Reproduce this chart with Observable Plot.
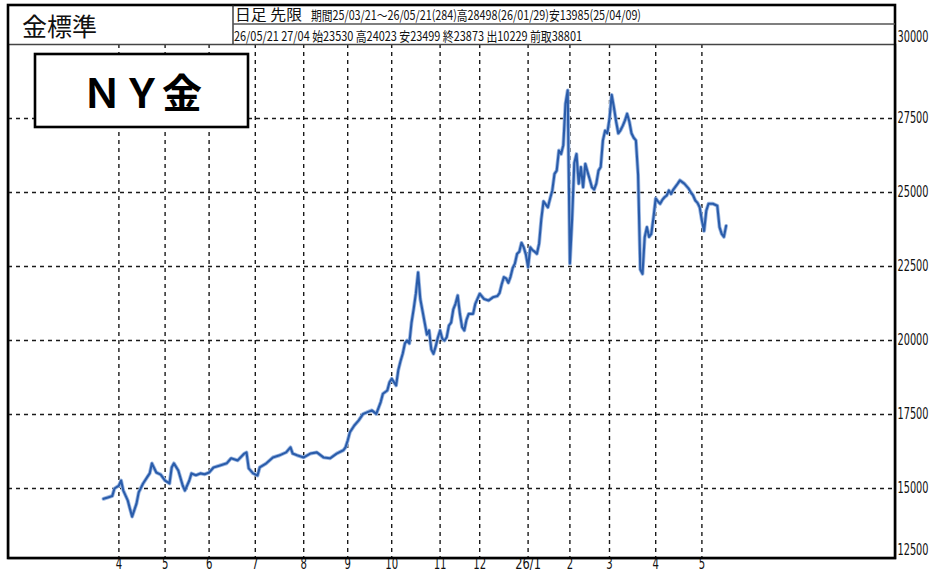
<!DOCTYPE html>
<html><head><meta charset="utf-8">
<script src="https://cdn.jsdelivr.net/npm/d3@7"></script>
<script src="https://cdn.jsdelivr.net/npm/@observablehq/plot@0.6"></script>
<style>
html,body{margin:0;padding:0;background:#fff;}
#chart{width:933px;height:577px;overflow:hidden;}
</style></head><body><div id="chart"></div>
<script>
// trading-day index (0 = 25/03/21) and price (yen/g)
const days = [0,2,4,5,7,8,9,11,12,13,15,16,18,20,21,22,24,26,28,30,31,32,34,36,37,39,40,42,44,46,48,50,53,56,58,61,64,65,66,68,70,71,74,77,80,83,85,86,88,91,94,97,100,103,106,109,110,111,112,114,116,118,120,122,124,126,127,129,130,131,133,134,135,136,137,138,139,140,141,142,143,144,145,146,147,148,149,150,151,152,153,154,155,156,157,158,159,160,161,162,163,164,165,166,168,169,171,173,175,177,179,180,181,182,183,184,185,186,187,188,189,190,191,192,193,194,195,196,197,198,199,200,201,202,203,204,205,206,207,208,209,210,211,212,213,214,215,216,217,218,219,220,221,222,223,224,225,226,227,228,229,230,231,232,233,234,235,236,237,238,239,240,241,242,243,244,245,246,247,248,249,250,251,252,253,254,255,256,257,258,259,261,262,264,266,267,268,269,270,271,272,273,274,275,277,279,280,281,282,283];
const prices = [14650,14700,14750,15000,15100,15270,14930,14600,14320,14050,14490,14870,15170,15400,15510,15850,15540,15470,15270,15170,15710,15850,15610,15100,14930,15270,15510,15450,15510,15480,15540,15710,15780,15850,16020,15950,16180,16220,15680,15510,15440,15710,15850,16050,16120,16220,16390,16180,16120,16050,16180,16220,16050,16020,16180,16290,16390,16620,16900,17130,17300,17520,17580,17640,17520,17920,18200,18310,18590,18710,18480,19000,19300,19550,19900,20000,19900,20600,21070,21600,22300,21400,21000,20600,20200,20340,19700,19550,19800,20100,20340,20060,20000,20110,20500,20600,21050,21240,21520,20900,20450,20340,20700,20900,20900,21240,21580,21400,21350,21460,21500,21600,21900,22140,22100,21950,22150,22450,22600,22930,23000,23300,23150,22900,22480,23150,23050,23000,22930,23270,24100,24700,24600,24500,24800,25070,25630,25740,26420,26300,26600,28000,28450,22600,24100,26000,26300,25300,25860,25180,25970,25700,25450,25180,25100,25300,25740,25860,26760,27090,27000,27500,28300,27880,27400,27000,27100,27250,27430,27660,27400,27000,26850,26760,25600,22400,22250,23490,23830,23500,23600,24160,24800,24700,24620,24750,24840,24900,25070,24950,25100,25300,25410,25300,25130,25000,24900,24730,24650,24500,24050,23700,24390,24620,24620,24550,23830,23600,23500,23873];
// first trading day of each month and its label
const monthDays = [7,28,48,69,91,111,131,153,171,193,212,230,251,272];
const monthLabels = ["4","5","6","7","8","9","10","11","12","26/1","2","3","4","5"];
const yTicks = [15000,17500,20000,22500,25000,27500];
const yTop = 30000, yBottom = 12500;
const title = "金標準";
const badge = "ＮＹ金";
const info1a = "日足 先限";
const info1b = "期間25/03/21～26/05/21(284)高28498(26/01/29)安13985(25/04/09)";
const info2 = "26/05/21 27/04 始23530 高24023 安23499 終23873 出10229 前取38801";

const data = days.map((d, i) => ({day: d, price: prices[i]}));
const numFont = "'Liberation Sans Narrow','DejaVu Sans Condensed','Liberation Sans',sans-serif";
const dash = "4,4";
const ylab = {frameAnchor: "right", textAnchor: "start", dx: 2, fontSize: 15, fill: "#111", className: "ylab"};

const chart = Plot.plot({
  width: 933, height: 577,
  marginLeft: 8, marginRight: 38, marginTop: 44, marginBottom: 19,
  x: {type: "linear", domain: [0, 283], range: [103, 725.6], axis: null},
  y: {type: "linear", domain: [yBottom, yTop], range: [562, 44], axis: null},
  style: {background: "#fff", fontFamily: numFont, overflow: "visible"},
  marks: [
    Plot.ruleY(yTicks, {stroke: "#1a1a1a", strokeWidth: 1.4, strokeDasharray: dash}),
    Plot.ruleX(monthDays, {stroke: "#1a1a1a", strokeWidth: 1.4, strokeDasharray: dash}),
    Plot.line(data, {x: "day", y: "price", stroke: "#9db8e2", strokeWidth: 3.8, strokeLinejoin: "round"}),
    Plot.line(data, {x: "day", y: "price", stroke: "#2a5caa", strokeWidth: 2.1, strokeLinejoin: "round"}),
    Plot.frame({stroke: "#444", strokeWidth: 1.5}),
    Plot.text(yTicks, {...ylab, y: d => d, text: d => String(d)}),
    Plot.text([yTop], {...ylab, y: d => d, text: d => String(d), dy: -7}),
    Plot.text([yBottom], {...ylab, y: d => d, text: d => String(d), dy: -12}),
    Plot.text(monthDays, {x: d => d, text: (d, i) => monthLabels[i], frameAnchor: "bottom", dy: 10, fontSize: 16, fill: "#111", className: "xlab"})
  ]
});
document.getElementById("chart").appendChild(chart);

const svg = d3.select(chart);
// condense the numeric labels to the narrow face of the original
svg.selectAll(".ylab text").attr("textLength", 31).attr("lengthAdjust", "spacingAndGlyphs");
svg.selectAll(".xlab text").each(function() {
  const t = d3.select(this);
  t.attr("textLength", t.text().length * 6.4).attr("lengthAdjust", "spacingAndGlyphs");
});

// decorations: outer box, header cells, title and badge
const jp = "'Noto Sans CJK JP','Noto Sans',sans-serif";
svg.append("rect").attr("x", 8).attr("y", 5).attr("width", 887).attr("height", 553)
  .attr("fill", "none").attr("stroke", "#000").attr("stroke-width", 2.6);
svg.append("line").attr("x1", 233).attr("x2", 233).attr("y1", 5).attr("y2", 44)
  .attr("stroke", "#222").attr("stroke-width", 1.3);
svg.append("line").attr("x1", 233).attr("x2", 895).attr("y1", 24).attr("y2", 24)
  .attr("stroke", "#555").attr("stroke-width", 1.5);
const hdr = svg.append("g").attr("text-anchor", "start").attr("fill", "#111").attr("font-family", jp);
hdr.append("text").text(title).attr("x", 22).attr("y", 36).attr("font-size", 25);
hdr.append("text").text(info1a).attr("x", 235).attr("y", 20).attr("font-size", 15)
  .attr("textLength", 67).attr("lengthAdjust", "spacingAndGlyphs");
hdr.append("text").text(info1b).attr("x", 311).attr("y", 20).attr("font-size", 13)
  .attr("textLength", 330).attr("lengthAdjust", "spacingAndGlyphs");
hdr.append("text").text(info2).attr("x", 234).attr("y", 41).attr("font-size", 13)
  .attr("textLength", 348).attr("lengthAdjust", "spacingAndGlyphs");
svg.append("rect").attr("x", 35).attr("y", 54).attr("width", 213).attr("height", 73)
  .attr("fill", "#fff").attr("stroke", "#000").attr("stroke-width", 2.6);
svg.append("text").text(badge).attr("x", 142).attr("y", 91)
  .attr("text-anchor", "middle").attr("dominant-baseline", "central")
  .attr("font-family", jp).attr("font-weight", "bold").attr("font-size", 40).attr("fill", "#000");
</script></body></html>
